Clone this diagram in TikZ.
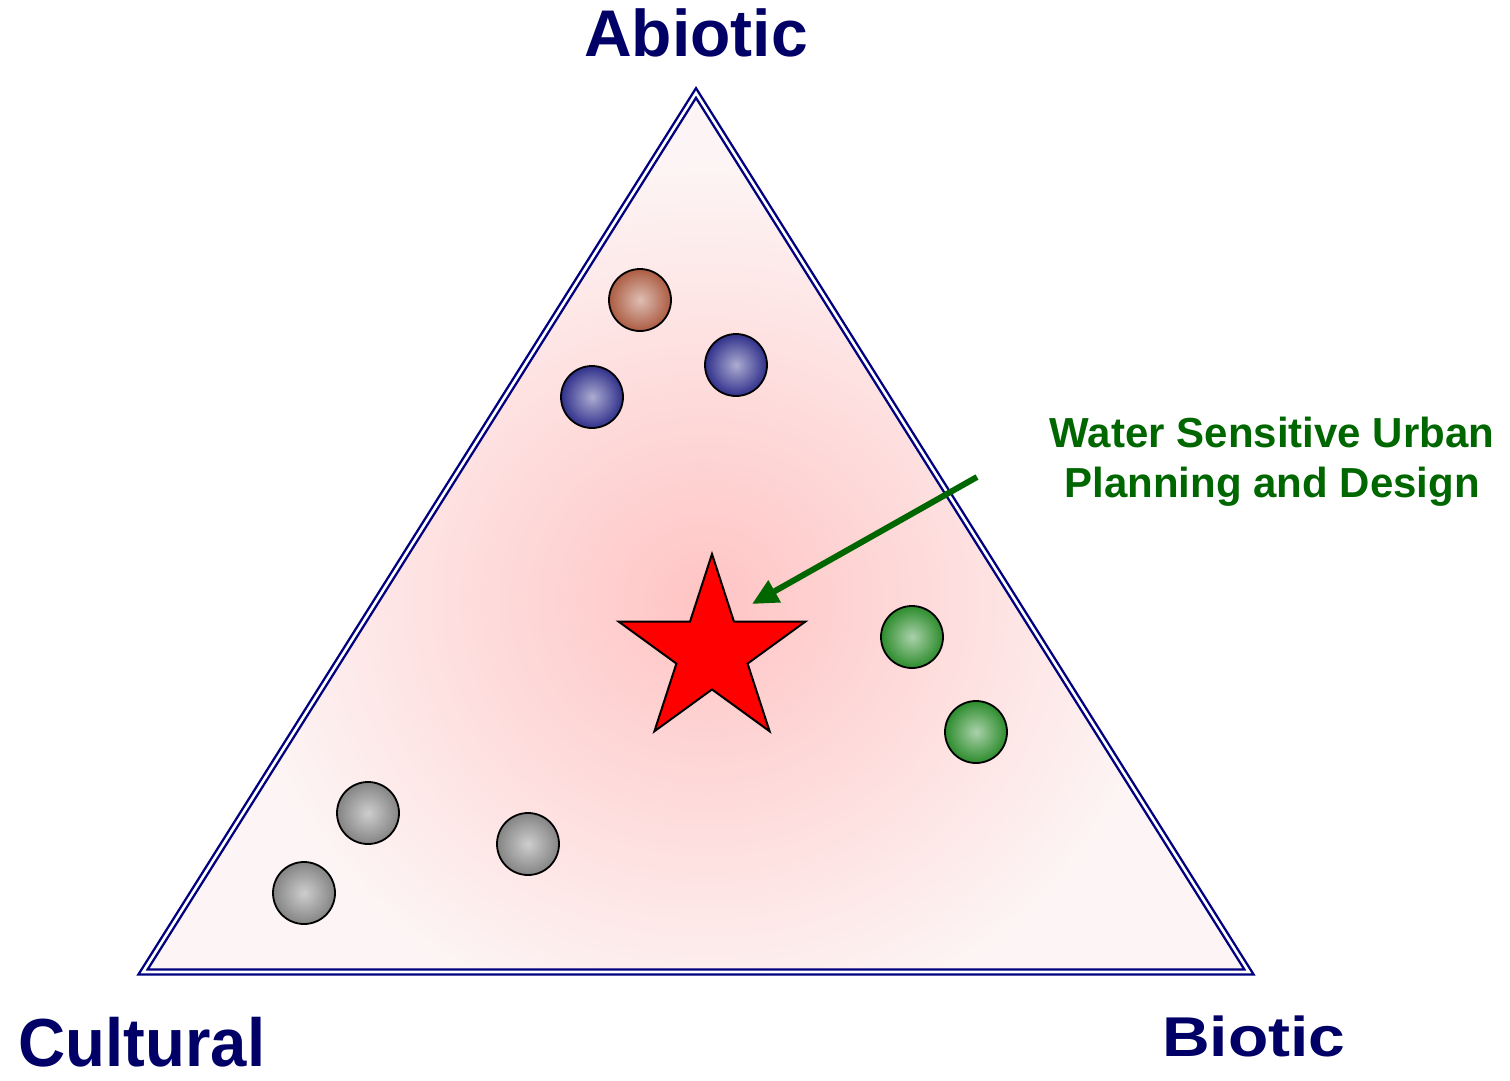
\documentclass[tikz,border=0pt]{standalone}
\usepackage{fontspec}
\setmainfont{Liberation Sans}
\usepackage{tikz}
\usetikzlibrary{arrows.meta,shapes.geometric}
\definecolor{labelnavy}{RGB}{0,0,102}
\definecolor{edgenavy}{RGB}{0,0,128}
\definecolor{wsudgreen}{RGB}{0,102,0}
\definecolor{trianglepink}{RGB}{253,245,245}
\definecolor{glowpink}{RGB}{255,196,196}
\definecolor{ballbrown}{RGB}{172,92,66}
\definecolor{ballblue}{RGB}{48,48,140}
\definecolor{ballgreen}{RGB}{44,140,44}
\definecolor{ballgray}{RGB}{132,132,132}

\begin{document}
\begin{tikzpicture}[x=1pt,y=-1pt,
  corner/.style={font=\fontsize{66}{66}\selectfont\bfseries,text=labelnavy,anchor=base,inner sep=0pt},
  ball/.style={circle,draw=black,line width=1.8pt,minimum size=62pt,inner sep=0pt,shade}]
  \useasboundingbox (0,0) rectangle (1510,1081);
  \coordinate (top) at (696,93);
  \coordinate (left) at (143,972);
  \coordinate (right) at (1249,972);
  \fill[trianglepink] (top)--(left)--(right)--cycle;
  \begin{scope}
    \clip (top)--(left)--(right)--cycle;
    \shade[inner color=glowpink,outer color=trianglepink] (705,600) ellipse (470 and 440);
  \end{scope}
  \foreach \nm/\x/\y/\c in {brown/640/300/ballbrown,blueA/736/365/ballblue,blueB/592/397/ballblue,
      greenA/912/637/ballgreen,greenB/976/732/ballgreen,
      grayA/368/813/ballgray,grayB/528/844/ballgray,grayC/304/893/ballgray}{
    \node[ball,inner color=\c!40!white,outer color=\c] (\nm) at (\x,\y) {};
  }
  \node[star,star points=5,star point ratio=2.618,minimum size=196pt,inner sep=0pt,
    fill=red,draw=black,line width=2pt] (wsud) at (712,652) {};
  \draw[edgenavy,line width=2.4pt,double=white,double distance=2.6pt] (top)--(left)--(right)--cycle;
  \coordinate (arrowtail) at (977,477);
  \coordinate (arrowtip) at (752,604);
  \draw[wsudgreen,line width=6pt,-{Triangle[length=26pt,width=24pt]}] (arrowtail) -- (arrowtip);
  \node[corner] (abiotic) at (696,57) {Abiotic};
  \node[corner,font=\fontsize{68}{68}\selectfont\bfseries,xscale=0.96] (cultural) at (142,1066) {Cultural};
  \node[corner,yscale=0.85] (biotic) at (1254,1056) {Biotic};
  \node[font=\fontsize{42}{50}\selectfont\bfseries,text=wsudgreen,align=center,inner sep=0pt]
    (wsudlabel) at (1272,462) {Water Sensitive Urban\\Planning and Design};
\end{tikzpicture}
\end{document}
